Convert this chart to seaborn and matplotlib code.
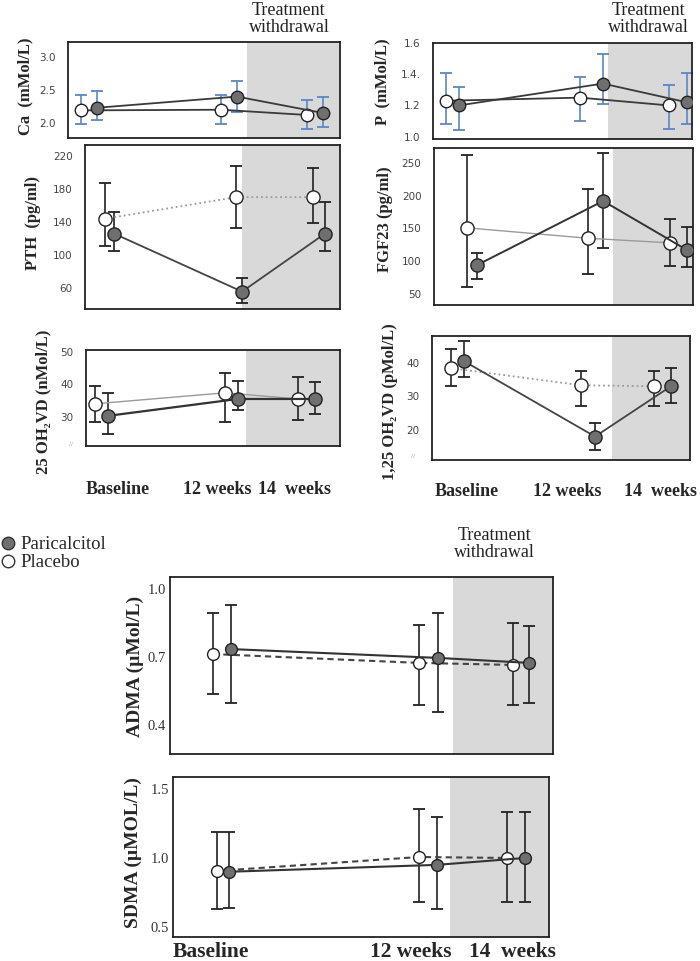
import matplotlib
matplotlib.use("Agg")
import matplotlib.pyplot as plt
import numpy as np
import pandas as pd
import seaborn as sns
from matplotlib.lines import Line2D

sns.set_style("white")
plt.rcParams["font.family"] = ["Liberation Serif", "DejaVu Serif"]

# ---------------- data ----------------
TIMEPOINTS = ["Baseline", "12 weeks", "14  weeks"]
GROUPS = ["Paricalcitol", "Placebo"]

CA_PLAC = [2.19, 2.20, 2.12]
CA_PLAC_LO = [1.98, 1.98, 1.91]
CA_PLAC_HI = [2.43, 2.42, 2.35]
CA_PARI = [2.23, 2.40, 2.15]
CA_PARI_LO = [2.05, 2.17, 1.94]
CA_PARI_HI = [2.49, 2.64, 2.40]

P_PLAC = [1.23, 1.25, 1.20]
P_PLAC_LO = [1.08, 1.10, 1.05]
P_PLAC_HI = [1.41, 1.38, 1.33]
P_PARI = [1.20, 1.34, 1.22]
P_PARI_LO = [1.04, 1.21, 1.08]
P_PARI_HI = [1.32, 1.53, 1.41]

PTH_PLAC = [144, 170, 170]
PTH_PLAC_LO = [111, 133, 139]
PTH_PLAC_HI = [187, 208, 205]
PTH_PARI = [126, 56, 126]
PTH_PARI_LO = [105, 42, 105]
PTH_PARI_HI = [152, 72, 164]

FGF_PLAC = [151, 135, 128]
FGF_PLAC_LO = [60, 81, 93]
FGF_PLAC_HI = [262, 210, 164]
FGF_PARI = [94, 192, 117]
FGF_PARI_LO = [73, 120, 91]
FGF_PARI_HI = [112, 265, 153]

VD25_PLAC = [34.0, 37.4, 35.5]
VD25_PLAC_LO = [28.5, 28.5, 29.0]
VD25_PLAC_HI = [39.5, 43.5, 42.3]
VD25_PARI = [30.3, 35.5, 35.5]
VD25_PARI_LO = [24.8, 32.0, 31.0]
VD25_PARI_HI = [37.4, 41.0, 40.7]

VD125_PLAC = [38.4, 33.3, 33.0]
VD125_PLAC_LO = [33.0, 27.0, 27.0]
VD125_PLAC_HI = [44.0, 37.6, 37.6]
VD125_PARI = [40.5, 18.0, 33.0]
VD125_PARI_LO = [35.7, 14.0, 28.0]
VD125_PARI_HI = [46.5, 22.0, 38.5]

ADMA_PLAC = [0.713, 0.674, 0.665]
ADMA_PLAC_LO = [0.537, 0.488, 0.488]
ADMA_PLAC_HI = [0.894, 0.841, 0.850]
ADMA_PARI = [0.735, 0.696, 0.674]
ADMA_PARI_LO = [0.497, 0.458, 0.497]
ADMA_PARI_HI = [0.930, 0.894, 0.837]

SDMA_PLAC = [0.906, 1.007, 1.000]
SDMA_PLAC_LO = [0.63, 0.68, 0.68]
SDMA_PLAC_HI = [1.19, 1.355, 1.33]
SDMA_PARI = [0.900, 0.950, 1.000]
SDMA_PARI_LO = [0.64, 0.63, 0.68]
SDMA_PARI_HI = [1.19, 1.30, 1.33]

# ---------------- layout ----------------
W, H = 700, 961
fig = plt.figure(figsize=(7, 9.61), dpi=100)


def rect(l, t, r, b):
    return [l / W, 1 - b / H, (r - l) / W, (b - t) / H]


DARK = "#3a3a3a"
FILL = "#6f6f6f"
BLUE = "#5b87c4"
SHADE = "#d9d9d9"

panels = [
    dict(box=(68, 42, 340, 138), ylim=(1.77, 3.23), ticks=[2.0, 2.5, 3.0], tl=["2.0", "2.5", "3.0"],
         plac=(CA_PLAC, CA_PLAC_LO, CA_PLAC_HI), pari=(CA_PARI, CA_PARI_LO, CA_PARI_HI),
         xpl=[.048, .562, .879], xpa=[.107, .621, .938], shade=.658,
         pls=dict(color=DARK, ls="-", lw=1.3), pas=dict(color=DARK, ls="-", lw=1.3),
         ecol=BLUE, ylabel="Ca  (mMol/L)", lab=(25, 86), ms=9),
    dict(box=(433, 43, 692, 139), ylim=(0.985, 1.6), ticks=[1.0, 1.2, 1.4, 1.6], tl=["1.0", "1.2", "1.4.", "1.6"],
         plac=(P_PLAC, P_PLAC_LO, P_PLAC_HI), pari=(P_PARI, P_PARI_LO, P_PARI_HI),
         xpl=[.050, .568, .911], xpa=[.100, .656, .981], shade=.676,
         pls=dict(color=DARK, ls="-", lw=1.3), pas=dict(color=DARK, ls="-", lw=1.3),
         ecol=BLUE, ylabel="P  (mMol/L)", lab=(382, 82), ms=9),
    dict(box=(85, 145, 340, 309), ylim=(35, 233), ticks=[60, 100, 140, 180, 220], tl=["60", "100", "140", "180", "220"],
         plac=(PTH_PLAC, PTH_PLAC_LO, PTH_PLAC_HI), pari=(PTH_PARI, PTH_PARI_LO, PTH_PARI_HI),
         xpl=[.078, .592, .894], xpa=[.114, .616, .941], shade=.616,
         pls=dict(color="#9a9a9a", ls=":", lw=1.3), pas=dict(color="#444444", ls="-", lw=1.3),
         ecol="#222222", ylabel="PTH  (pg/ml)", lab=(33, 223), ms=9.5),
    dict(box=(434, 148, 693, 305), ylim=(33, 273), ticks=[50, 100, 150, 200, 250], tl=["50", "100", "150", "200", "250"],
         plac=(FGF_PLAC, FGF_PLAC_LO, FGF_PLAC_HI), pari=(FGF_PARI, FGF_PARI_LO, FGF_PARI_HI),
         xpl=[.127, .595, .911], xpa=[.166, .653, .977], shade=.691,
         pls=dict(color="#9a9a9a", ls="-", lw=1.0), pas=dict(color="#333333", ls="-", lw=1.4),
         ecol="#222222", ylabel="FGF23 (pg/ml)", lab=(385, 219), ms=9.5),
    dict(box=(86, 350, 340, 446), ylim=(21, 50.6), ticks=[30, 40, 50], tl=["30", "40", "50"],
         plac=(VD25_PLAC, VD25_PLAC_LO, VD25_PLAC_HI), pari=(VD25_PARI, VD25_PARI_LO, VD25_PARI_HI),
         xpl=[.035, .547, .835], xpa=[.087, .598, .902], shade=.630,
         pls=dict(color="#9a9a9a", ls="-", lw=1.0), pas=dict(color="#333333", ls="-", lw=1.6),
         ecol="#222222", ylabel="25 OH\u2082VD (nMol/L)", lab=(43, 402), ms=9.5),
    dict(box=(432, 336, 690, 460), ylim=(11, 48), ticks=[20, 30, 40], tl=["20", "30", "40"],
         plac=(VD125_PLAC, VD125_PLAC_LO, VD125_PLAC_HI), pari=(VD125_PARI, VD125_PARI_LO, VD125_PARI_HI),
         xpl=[.074, .578, .860], xpa=[.124, .632, .926], shade=.698,
         pls=dict(color="#9a9a9a", ls=":", lw=1.3), pas=dict(color="#444444", ls="-", lw=1.3),
         ecol="#222222", ylabel="1,25 OH\u2082VD (pMol/L)", lab=(390, 402), ms=9.5),
    dict(box=(170, 577, 553, 754), ylim=(0.272, 1.053), ticks=[0.4, 0.7, 1.0], tl=["0.4", "0.7", "1.0"],
         plac=(ADMA_PLAC, ADMA_PLAC_LO, ADMA_PLAC_HI), pari=(ADMA_PARI, ADMA_PARI_LO, ADMA_PARI_HI),
         xpl=[.112, .650, .896], xpa=[.159, .700, .937], shade=.739,
         pls=dict(color="#444444", ls=(0, (3, 2)), lw=1.5), pas=dict(color="#333333", ls="-", lw=1.5),
         ecol="#222222", ylabel="ADMA (\u00b5Mol/L)", lab=(135, 666), ms=8.5, big=True),
    dict(box=(173, 777, 549, 937), ylim=(0.427, 1.587), ticks=[0.5, 1.0, 1.5], tl=["0.5", "1.0", "1.5"],
         plac=(SDMA_PLAC, SDMA_PLAC_LO, SDMA_PLAC_HI), pari=(SDMA_PARI, SDMA_PARI_LO, SDMA_PARI_HI),
         xpl=[.117, .654, .888], xpa=[.149, .702, .936], shade=.737,
         pls=dict(color="#444444", ls=(0, (3, 2)), lw=1.5), pas=dict(color="#333333", ls="-", lw=1.5),
         ecol="#222222", ylabel="SDMA (\u00b5MOL/L)", lab=(133, 853), ms=8.5, big=True),
]

for p in panels:
    ax = fig.add_axes(rect(*p["box"]))
    ax.set_xlim(0, 1)
    ax.set_ylim(*p["ylim"])
    ax.axvspan(p["shade"], 1, color=SHADE, lw=0, zorder=0)
    for (vals, lo, hi), xs in ((p["plac"], p["xpl"]), (p["pari"], p["xpa"])):
        vals = np.array(vals, float)
        yerr = [vals - np.array(lo), np.array(hi) - vals]
        cont = ax.errorbar(xs, vals, yerr=yerr, fmt="none", ecolor=p["ecol"], elinewidth=1.2,
                           capsize=4, capthick=1.3, zorder=2)
        for cl in cont[1]:
            cl.set_color("#222222")
    ms = p["ms"]
    dfp = pd.DataFrame({"x": p["xpl"], "y": p["plac"][0]})
    dfa = pd.DataFrame({"x": p["xpa"], "y": p["pari"][0]})
    sns.lineplot(data=dfp, x="x", y="y", ax=ax, color=p["pls"]["color"], linestyle=p["pls"]["ls"],
                 linewidth=p["pls"]["lw"], marker="o", markersize=ms, markerfacecolor="white",
                 markeredgecolor="#222222", markeredgewidth=1.0, zorder=3)
    sns.lineplot(data=dfa, x="x", y="y", ax=ax, color=p["pas"]["color"], linestyle=p["pas"]["ls"],
                 linewidth=p["pas"]["lw"], marker="o", markersize=ms, markerfacecolor=FILL,
                 markeredgecolor="#222222", markeredgewidth=1.0, zorder=4)
    ax.set_xlabel("")
    ax.set_ylabel("")
    ax.set_xticks([])
    ax.set_yticks(p["ticks"])
    if p.get("big"):
        ax.set_yticklabels(p["tl"], fontsize=10.5, color="#333333", family=["Liberation Serif"])
        ax.tick_params(axis="y", length=0, pad=3)
    else:
        ax.set_yticklabels(p["tl"], fontsize=7.5, color="#444444", family=["DejaVu Sans"])
        ax.tick_params(axis="y", length=0, pad=9)
    for s in ax.spines.values():
        s.set_visible(True)
        s.set_color("#222222")
        s.set_linewidth(1.3)
    lx, ly = p["lab"]
    fig.text(lx / W, 1 - ly / H, p["ylabel"], rotation=90, ha="center", va="center",
             fontsize=14 if p.get("big") else 12, fontweight="bold",
             family=["Liberation Serif", "DejaVu Serif"])

# axis break marks
fig.text(71 / W, 1 - 444 / H, "//", fontsize=5, color="#888888", ha="center", va="center")
fig.text(413 / W, 1 - 457 / H, "//", fontsize=5, color="#888888", ha="center", va="center")

# time point labels
for xs, y, fs in (([118, 217, 295], 489, 13), ([467, 567, 660], 492, 13), ([211, 411, 512], 952, 15.5)):
    for lbl, x in zip(TIMEPOINTS, xs):
        fig.text(x / W, 1 - y / H, lbl, ha="center", va="center", fontsize=fs, fontweight="bold")

# treatment withdrawal annotations
for x, y in ((289, 19), (648, 19), (494, 544)):
    fig.text(x / W, 1 - y / H, "Treatment\nwithdrawal", ha="center", va="center", fontsize=13,
             linespacing=1.05, color="#222222")

# legend
handles = [Line2D([], [], marker="o", ls="none", markersize=9, markerfacecolor=FILL, markeredgecolor="#333333"),
           Line2D([], [], marker="o", ls="none", markersize=9, markerfacecolor="white", markeredgecolor="#333333")]
fig.legend(handles, GROUPS, loc="upper left", bbox_to_anchor=(-0.006, 1 - 536 / H), frameon=False,
           fontsize=13.5, handletextpad=0.0, handlelength=1.3, labelspacing=0.05, borderaxespad=0,
           borderpad=0)

fig.savefig("out.png", dpi=100)
